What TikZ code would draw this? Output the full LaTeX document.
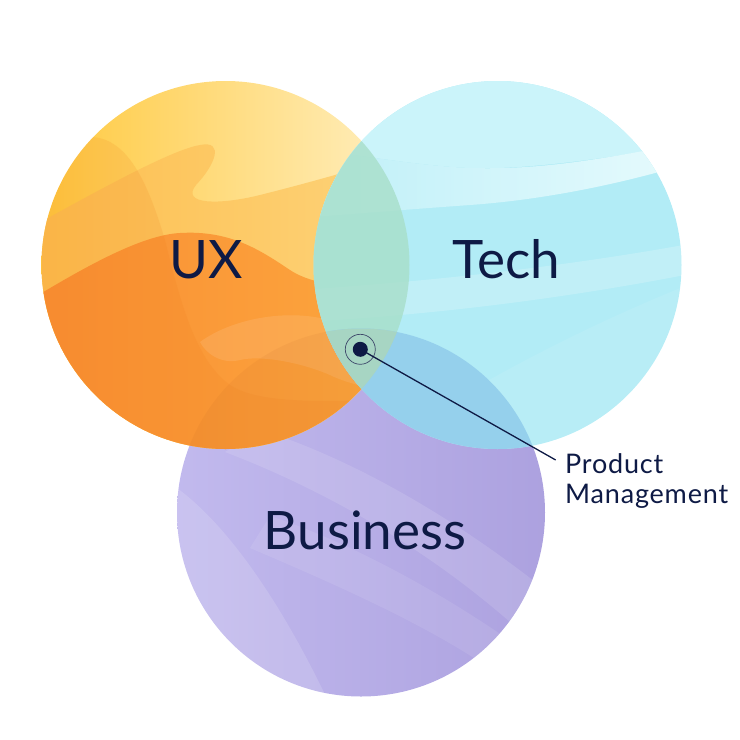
\documentclass[tikz,border=0pt]{standalone}
\usepackage{fontspec}
\setmainfont{Lato}
\usetikzlibrary{calc}
\definecolor{navy}{HTML}{0E1A45}
\definecolor{uxA}{HTML}{FFC93E}
\definecolor{uxB}{HTML}{FFF0C4}
\definecolor{uxMidL}{HTML}{FDBE4E}
\definecolor{uxMidR}{HTML}{FDD47C}
\definecolor{uxLowL}{HTML}{F98E34}
\definecolor{uxLowR}{HTML}{FCA83E}
\definecolor{uxDark}{HTML}{EE7A18}
\definecolor{teBase}{HTML}{B2ECF6}
\definecolor{teTop}{HTML}{CBF4FA}
\definecolor{teBandL}{HTML}{BDEFF8}
\definecolor{teBandR}{HTML}{E8FBFD}
\definecolor{buL}{HTML}{C2BAEE}
\definecolor{buR}{HTML}{ACA1DF}
\definecolor{iUT}{HTML}{A8DFCA}
\definecolor{iTB}{HTML}{93CEEC}
\definecolor{iAll}{HTML}{A7D5C3}
\definecolor{iUB}{HTML}{B05A20}
\tikzset{
  biglabel/.style={font=\fontsize{53}{60}\selectfont, text=navy, anchor=base, inner sep=0pt},
  smalllabel/.style={font=\fontsize{27}{30}\selectfont\addfontfeature{LetterSpace=3}, text=navy, anchor=base west, inner sep=0pt},
  pmdot/.style={circle, fill=navy, minimum size=15pt, inner sep=0pt},
  pmring/.style={draw=navy!80, line width=0.7pt},
  leader/.style={draw=navy, line width=1.3pt}
}
\def\UXc{(225.5,265) circle (184pt)}
\def\TEc{(497.5,265) circle (184pt)}
\def\BUc{(361,512.5) circle (184pt)}
\begin{document}
\begin{tikzpicture}[x=1pt,y=-1pt]
\useasboundingbox (0,0) rectangle (740,740);
% ---------- Business ----------
\begin{scope}
  \clip \BUc;
  \shade[left color=buL, right color=buR] (170,320) rectangle (550,700);
  \fill[white, opacity=0.14] (165,480) .. controls (230,520) and (290,620) .. (330,705) -- (160,705) -- cycle;
  \fill[white, opacity=0.12] (225,452) .. controls (330,492) and (430,552) .. (510,622) -- (548,592) .. controls (460,522) and (360,462) .. (262,430) -- cycle;
  \fill[white, opacity=0.09] (250,548) .. controls (330,582) and (420,622) .. (480,662) -- (512,642) .. controls (440,592) and (350,542) .. (270,516) -- cycle;
\end{scope}
% ---------- UX ----------
\begin{scope}
  \clip \UXc;
  \shade[left color=uxA, right color=uxB] (40,80) rectangle (412,450);
  \shade[left color=uxMidL, right color=uxMidR] (30,228) .. controls (90,195) and (170,150) .. (200,145) .. controls (225,140) and (215,165) .. (196,185) .. controls (180,205) and (220,205) .. (260,195) .. controls (320,180) and (370,165) .. (420,150) -- (420,460) -- (30,460) -- cycle;
  \shade[left color=uxLowL, right color=uxLowR] (30,300) .. controls (80,270) and (140,235) .. (180,233) .. controls (230,230) and (260,250) .. (290,270) .. controls (320,290) and (380,290) .. (420,285) -- (420,460) -- (30,460) -- cycle;
  \fill[uxDark, opacity=0.14] (20,135) -- (90,137) .. controls (130,137) and (150,190) .. (165,240) .. controls (180,300) and (195,360) .. (230,385) .. controls (260,405) and (330,402) .. (420,398) -- (420,460) -- (20,460) -- cycle;
  \fill[white, opacity=0.10] (200,342) .. controls (230,320) and (280,310) .. (320,318) .. controls (350,322) and (380,320) .. (420,315) -- (420,400) .. controls (380,390) and (350,385) .. (330,375) .. controls (300,362) and (260,355) .. (240,360) .. controls (220,365) and (205,352) .. cycle;
\end{scope}
% ---------- Tech ----------
\begin{scope}
  \clip \TEc;
  \fill[teBase] (300,70) rectangle (700,460);
  \fill[teTop] (300,60) -- (700,60) -- (700,142) .. controls (600,160) and (520,170) .. (470,168) .. controls (420,166) and (360,155) .. (300,148) -- cycle;
  \shade[left color=teBandL, right color=teBandR] (300,148) .. controls (360,155) and (420,166) .. (470,168) .. controls (540,170) and (600,160) .. (700,140) -- (700,160) .. controls (620,185) and (540,200) .. (470,205) .. controls (400,210) and (340,215) .. (300,218) -- cycle;
  \fill[white, opacity=0.2] (300,290) .. controls (420,282) and (560,268) .. (700,242) -- (700,272) .. controls (560,300) and (420,316) .. (300,322) -- cycle;
  \fill[white, opacity=0.08] (420,420) .. controls (520,360) and (600,320) .. (700,280) -- (700,460) -- (420,460) -- cycle;
\end{scope}
% ---------- intersections ----------
\begin{scope}
  \clip \BUc;
  \fill[iUB, opacity=0.08] \UXc;
\end{scope}
\begin{scope}
  \clip \UXc;
  \fill[iUT, opacity=0.82] \TEc;
\end{scope}
\begin{scope}
  \clip \BUc;
  \fill[iTB, opacity=0.92] \TEc;
\end{scope}
\begin{scope}
  \clip \BUc;
  \clip \UXc;
  \fill[iAll] \TEc;
\end{scope}
% ---------- labels ----------
\node[biglabel] (ux) at (206,278) {UX};
\node[biglabel] (tech) at (506,278) {Tech};
\node[biglabel] (bus) at (365,549) {Business};
\node[pmdot] (pm) at (360.3,349.3) {};
\draw[pmring] (pm.center) circle (15pt);
\node[smalllabel] (pmlabel1) at (565,473) {Product};
\node[smalllabel] (pmlabel2) at (565,503) {Management};
\coordinate (lend) at (555.7,460);
\draw[leader] (pm.center) -- (lend);
\end{tikzpicture}
\end{document}
